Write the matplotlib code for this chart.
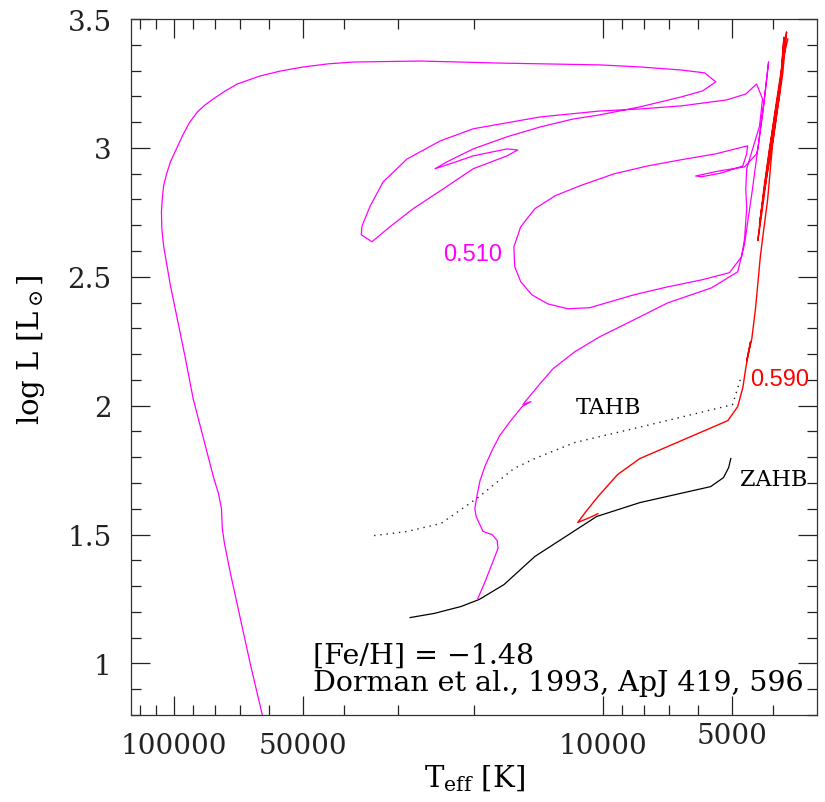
import matplotlib
matplotlib.use('Agg')
import matplotlib.pyplot as plt
import numpy as np

plt.rcParams['font.family'] = 'DejaVu Serif'
plt.rcParams['mathtext.fontset'] = 'dejavuserif'

# 0.510 Msun track (log Teff, log L)
logt_510 = [4.291, 4.274, 4.256, 4.244, 4.246, 4.258, 4.279, 4.295, 4.298, 4.293,
            4.286, 4.274, 4.258, 4.240, 4.216, 4.188, 4.167, 4.186, 4.177, 4.146,
            4.116, 4.065, 4.007, 3.927, 3.848, 3.746, 3.708, 3.685,
            3.669, 3.652, 3.638, 3.624, 3.613, 3.624, 3.638, 3.641, 3.669,
            3.727, 3.783, 3.769, 3.722, 3.673, 3.664, 3.662,
            3.736, 3.820, 3.895, 3.974, 4.053, 4.111, 4.158, 4.191, 4.207, 4.205,
            4.191, 4.165, 4.128, 4.081, 4.030, 3.927, 3.848, 3.769, 3.704,
            3.676, 3.669, 3.664, 3.666, 3.664, 3.650, 3.634, 3.627, 3.641,
            3.666, 3.711, 3.816, 3.913, 4.007, 4.146, 4.302, 4.379, 4.456, 4.512,
            4.542, 4.561, 4.563, 4.538, 4.496, 4.442, 4.379, 4.302, 4.223, 4.198,
            4.223, 4.302, 4.356, 4.391, 4.363, 4.302, 4.223, 4.146, 4.069, 4.007,
            3.913, 3.816, 3.767, 3.736, 3.762, 3.816, 3.913, 4.007, 4.240, 4.426,
            4.582, 4.640, 4.698, 4.752, 4.799, 4.852, 4.880, 4.908, 4.927, 4.945,
            4.964, 4.980, 4.994, 5.008, 5.017, 5.024, 5.027, 5.029, 5.028,
            5.024, 5.008, 4.992, 4.973, 4.955, 4.931, 4.908, 4.896, 4.889, 4.887,
            4.882, 4.868, 4.845, 4.822, 4.794, 4.785]
logl_510 = [1.252, 1.318, 1.395, 1.446, 1.477, 1.500, 1.512, 1.570, 1.601, 1.651,
            1.709, 1.767, 1.826, 1.884, 1.938, 1.996, 2.016, 2.004, 2.023, 2.085,
            2.143, 2.209, 2.267, 2.333, 2.399, 2.457, 2.496, 2.519,
            2.628, 2.822, 2.996, 3.171, 3.333, 3.171, 2.996, 2.977, 2.926,
            2.911, 2.891, 2.888, 2.903, 2.930, 2.977, 3.008,
            2.977, 2.953, 2.930, 2.899, 2.853, 2.814, 2.764, 2.694, 2.616, 2.539,
            2.481, 2.430, 2.395, 2.376, 2.380, 2.430, 2.461, 2.488, 2.516,
            2.578, 2.647, 2.764, 2.841, 2.919, 2.996, 3.085, 3.190, 3.248,
            3.209, 3.186, 3.163, 3.151, 3.143, 3.120, 3.074, 3.027, 2.957, 2.868,
            2.775, 2.698, 2.663, 2.636, 2.694, 2.764, 2.833, 2.919, 2.969, 2.992,
            2.996, 2.969, 2.938, 2.919, 2.946, 2.996, 3.043, 3.081, 3.112, 3.128,
            3.159, 3.198, 3.221, 3.256, 3.291, 3.302, 3.314, 3.322, 3.329, 3.337,
            3.333, 3.326, 3.314, 3.298, 3.279, 3.248, 3.221, 3.190, 3.167, 3.140,
            3.097, 3.047, 2.996, 2.946, 2.899, 2.853, 2.802, 2.752, 2.686,
            2.620, 2.465, 2.337, 2.182, 2.027, 1.872, 1.725, 1.659, 1.601, 1.523,
            1.465, 1.349, 1.174, 1.000, 0.802, 0.729]

# 0.590 Msun track
logt_590 = [4.011, 4.030, 4.058, 4.039, 4.011, 3.965, 3.913, 3.708, 3.685, 3.673,
            3.666, 3.655, 3.664, 3.652, 3.643, 3.632, 3.624, 3.615, 3.604, 3.592,
            3.580, 3.571, 3.578, 3.585, 3.611, 3.624, 3.638, 3.629, 3.615, 3.599,
            3.585, 3.577, 3.583, 3.597, 3.615, 3.634, 3.624, 3.606, 3.589, 3.578,
            3.568]
logl_590 = [1.581, 1.566, 1.547, 1.589, 1.647, 1.733, 1.795, 1.942, 1.996, 2.070,
            2.147, 2.248, 2.174, 2.260, 2.384, 2.581, 2.686, 2.802, 3.008, 3.151,
            3.287, 3.450, 3.364, 3.267, 2.996, 2.841, 2.640, 2.744, 2.919, 3.093,
            3.248, 3.430, 3.306, 3.151, 2.938, 2.705, 2.822, 2.996, 3.190, 3.353,
            3.422]

# zero-age HB
logt_zahb = [4.449, 4.393, 4.330, 4.288, 4.230, 4.158, 4.014, 3.913, 3.748, 3.718, 3.706, 3.701]
logl_zahb = [1.178, 1.194, 1.221, 1.248, 1.306, 1.415, 1.570, 1.624, 1.686, 1.721, 1.760, 1.795]

# terminal-age HB
logt_tahb = [4.533, 4.456, 4.377, 4.291, 4.207, 4.158, 4.065, 3.948, 3.830, 3.697, 3.676]
logl_tahb = [1.496, 1.512, 1.543, 1.643, 1.756, 1.795, 1.857, 1.903, 1.950, 2.004, 2.116]

major_teff = [100000, 50000, 10000, 5000]
minor_teff = [120000, 110000, 90000, 80000, 70000, 60000, 40000, 30000, 20000,
              9000, 8000, 7000, 6000, 4000]

fig = plt.figure(figsize=(8.25, 8.03), dpi=100)
ax = fig.add_axes([131/825, 1-716/803, 686/825, 696/803])

ax.plot(logt_510, logl_510, color='#ff00ff', lw=0.9)
ax.plot(logt_590, logl_590, color='#ff0000', lw=1.0)
ax.plot(logt_zahb, logl_zahb, color='black', lw=0.9)
ax.plot(logt_tahb, logl_tahb, color='#222222', lw=1.0, ls=(0, (1, 3.5)))

ax.text(4.304, 2.589, '0.510', color='#ff00ff', fontsize=17, family='Liberation Sans',
        ha='center', va='center')
ax.text(3.657, 2.105, '0.590', color='#ff0000', fontsize=17, family='Liberation Sans',
        ha='left', va='center')
ax.text(3.986, 1.996, 'TAHB', fontsize=16, ha='center', va='center')
ax.text(3.680, 1.717, 'ZAHB', fontsize=16, ha='left', va='center')
ax.text(0.265, 0.086, '[Fe/H] = \u22121.48', transform=ax.transAxes, fontsize=20.5,
        ha='left', va='center')
ax.text(0.265, 0.046, 'Dorman et al., 1993, ApJ 419, 596', transform=ax.transAxes,
        fontsize=20.5, ha='left', va='center')

ax.set_xlim(5.1, 3.5)
ax.set_ylim(0.8, 3.5)
ax.set_xticks(np.log10(major_teff))
ax.set_xticklabels([str(t) for t in major_teff])
ax.set_xticks(np.log10(minor_teff), minor=True)
ax.set_yticks([1, 1.5, 2, 2.5, 3, 3.5])
ax.set_yticklabels(['1', '1.5', '2', '2.5', '3', '3.5'])
ax.set_yticks(np.arange(0.8, 3.51, 0.1), minor=True)

ax.tick_params(which='both', direction='in', top=True, right=True, width=0.9,
               labelsize=20, colors='#222222')
ax.tick_params(which='major', length=14)
ax.tick_params(which='minor', length=7)
ax.tick_params(axis='x', which='major', pad=12)
ax.tick_params(axis='y', which='major', pad=14)
ax.xaxis.get_major_ticks()[3].set_pad(5)
for s in ax.spines.values():
    s.set_linewidth(0.9)
    s.set_color('#333333')

ax.set_xlabel(r'T$_{\rm eff}$ [K]', fontsize=21, labelpad=3)
ax.set_ylabel(r'log L [L$_\odot$]', fontsize=21)
ax.yaxis.set_label_coords(-0.122, 0.526)

fig.savefig('out.png', dpi=100)
